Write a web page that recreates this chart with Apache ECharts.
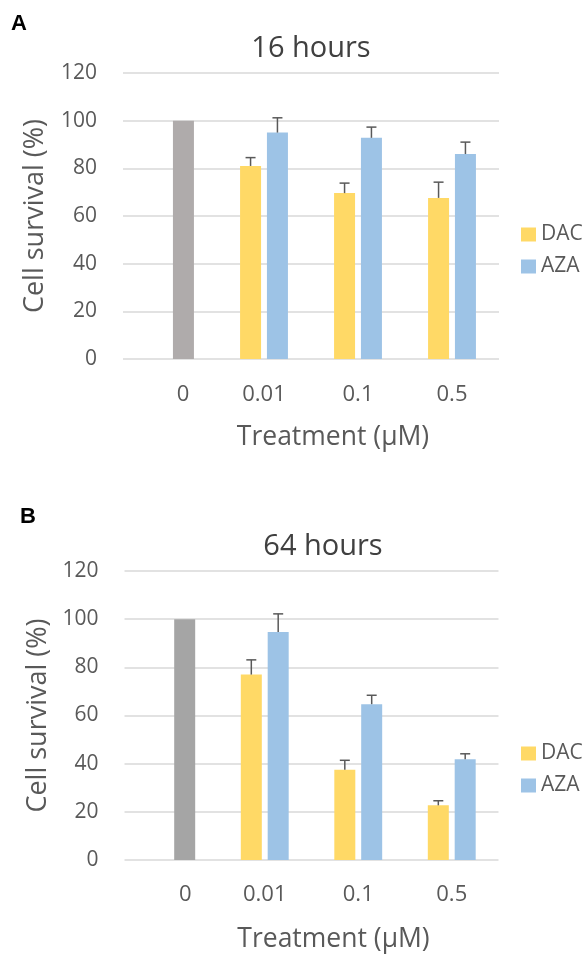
<!DOCTYPE html>
<html><head><meta charset="utf-8">
<script src="https://cdn.jsdelivr.net/npm/echarts@6/dist/echarts.min.js"></script>
<style>html,body{margin:0;padding:0;background:#fff}#c{width:585px;height:955px}</style>
</head><body><div id="c"></div>
<script>
// ---- data ----
const categories = ['0', '0.01', '0.1', '0.5'];
const controlA = [100, null, null, null];
const dacA = [null, 81, 69.6, 67.6];
const dacErrA = [null, 3.5, 4.2, 6.6];
const azaA = [null, 95, 92.8, 86];
const azaErrA = [null, 6.2, 4.5, 5.0];

const controlB = [100, null, null, null];
const dacB = [null, 77, 37.5, 22.7];
const dacErrB = [null, 6.1, 3.9, 1.9];
const azaB = [null, 94.7, 64.7, 41.8];
const azaErrB = [null, 7.5, 3.7, 2.3];

const yMin = 0, yMax = 120, yStep = 20;

// ---- style ----
const FONT = 'Open Sans';
const DAC_COLOR = '#FFD966';
const AZA_COLOR = '#9DC3E6';
const GRAY_A = '#AFABAB';
const GRAY_B = '#A5A5A5';
const TXT = '#595959';
const BAR_W = 21;
const BAR_GAP = 0.28;
const OFF = (BAR_W + BAR_W * BAR_GAP) / 2;

function azaData(ctrl, aza, gray) {
  return aza.map((v, i) => ctrl[i] != null ? { value: ctrl[i], itemStyle: { color: gray } } : v);
}
function errData(vals, errs) {
  const out = [];
  vals.forEach((v, i) => { if (v != null && errs[i] != null) out.push([i, v, errs[i]]); });
  return out;
}
function errRender(sign) {
  return function (params, api) {
    const i = api.value(0), v = api.value(1), e = api.value(2);
    const p0 = api.coord([i, v]);
    const p1 = api.coord([i, v + e]);
    const x = p0[0] + sign * OFF;
    const st = { stroke: '#595959', lineWidth: 1.5 };
    return {
      type: 'group', children: [
        { type: 'line', shape: { x1: x, y1: p0[1], x2: x, y2: p1[1] }, style: st },
        { type: 'line', shape: { x1: x - 5, y1: p1[1], x2: x + 5, y2: p1[1] }, style: st }
      ]
    };
  };
}
function xAxisCfg(gi, nameGap, lblMargin, shift) {
  return {
    type: 'category', gridIndex: gi, data: categories,
    axisLine: { show: false }, axisTick: { show: false },
    axisLabel: {
      margin: lblMargin, fontFamily: FONT, fontSize: 22, color: TXT,
      formatter: (v, i) => i === 0 ? '{o|' + v + '}' : v,
      rich: { o: { padding: [0, 0, 0, shift], fontFamily: FONT, fontSize: 22, color: TXT } }
    },
    name: 'Treatment (µM)', nameLocation: 'middle', nameGap: nameGap,
    nameTextStyle: { fontFamily: FONT, fontSize: 26.5, color: TXT, padding: [0, 0, 0, 44] }
  };
}
function yAxisCfg(gi, nameGap) {
  return {
    type: 'value', gridIndex: gi, min: yMin, max: yMax, interval: yStep,
    axisLine: { show: false }, axisTick: { show: false },
    splitLine: { lineStyle: { color: '#D9D9D9', width: 1.5 } },
    axisLabel: { margin: 26, fontFamily: FONT, fontSize: 21, color: TXT },
    name: 'Cell survival (%)', nameLocation: 'middle', nameGap: nameGap,
    nameTextStyle: { fontFamily: FONT, fontSize: 27, color: TXT }
  };
}
function legendCfg(top) {
  return {
    orient: 'vertical', left: 516, top: top, icon: 'rect',
    itemWidth: 15, itemHeight: 14, itemGap: 11,
    data: ['DAC', 'AZA'],
    textStyle: { fontFamily: FONT, fontSize: 21, color: TXT }
  };
}

const chart = echarts.init(document.getElementById('c'), null, { renderer: 'canvas' });
chart.setOption({
  animation: false,
  backgroundColor: '#fff',
  title: [
    { text: '16 hours', left: 306, top: 29, textAlign: 'center',
      textStyle: { fontFamily: FONT, fontSize: 29, fontWeight: 'normal', color: '#404040' } },
    { text: '64 hours', left: 318, top: 527, textAlign: 'center',
      textStyle: { fontFamily: FONT, fontSize: 29, fontWeight: 'normal', color: '#404040' } }
  ],
  graphic: [
    { type: 'text', left: 11, top: 13, z: 100,
      style: { text: 'A', font: 'bold 22px Arial, sans-serif', fill: '#000' } },
    { type: 'text', left: 20, top: 506, z: 100,
      style: { text: 'B', font: 'bold 22px Arial, sans-serif', fill: '#000' } }
  ],
  legend: [legendCfg(219), legendCfg(738)],
  grid: [
    { left: 123, top: 73, width: 376, height: 286, outerBoundsMode: 'none', containLabel: false },
    { left: 124.5, top: 571, width: 374, height: 289, outerBoundsMode: 'none', containLabel: false }
  ],
  xAxis: [xAxisCfg(0, 65, 25, 26), xAxisCfg(1, 66, 24, 28)],
  yAxis: [yAxisCfg(0, 74), yAxisCfg(1, 73)],
  series: [
    { name: 'DAC', type: 'bar', xAxisIndex: 0, yAxisIndex: 0, data: dacA, barWidth: BAR_W, barGap: (BAR_GAP * 100) + '%', itemStyle: { color: DAC_COLOR } },
    { name: 'AZA', type: 'bar', xAxisIndex: 0, yAxisIndex: 0, data: azaData(controlA, azaA, GRAY_A), barWidth: BAR_W, barGap: (BAR_GAP * 100) + '%', itemStyle: { color: AZA_COLOR } },
    { name: 'DAC', type: 'custom', xAxisIndex: 0, yAxisIndex: 0, data: errData(dacA, dacErrA), renderItem: errRender(-1), z: 5 },
    { name: 'AZA', type: 'custom', xAxisIndex: 0, yAxisIndex: 0, data: errData(azaA, azaErrA), renderItem: errRender(1), z: 5 },
    { name: 'DAC', type: 'bar', xAxisIndex: 1, yAxisIndex: 1, data: dacB, barWidth: BAR_W, barGap: (BAR_GAP * 100) + '%', itemStyle: { color: DAC_COLOR } },
    { name: 'AZA', type: 'bar', xAxisIndex: 1, yAxisIndex: 1, data: azaData(controlB, azaB, GRAY_B), barWidth: BAR_W, barGap: (BAR_GAP * 100) + '%', itemStyle: { color: AZA_COLOR } },
    { name: 'DAC', type: 'custom', xAxisIndex: 1, yAxisIndex: 1, data: errData(dacB, dacErrB), renderItem: errRender(-1), z: 5 },
    { name: 'AZA', type: 'custom', xAxisIndex: 1, yAxisIndex: 1, data: errData(azaB, azaErrB), renderItem: errRender(1), z: 5 }
  ]
});
</script></body></html>
